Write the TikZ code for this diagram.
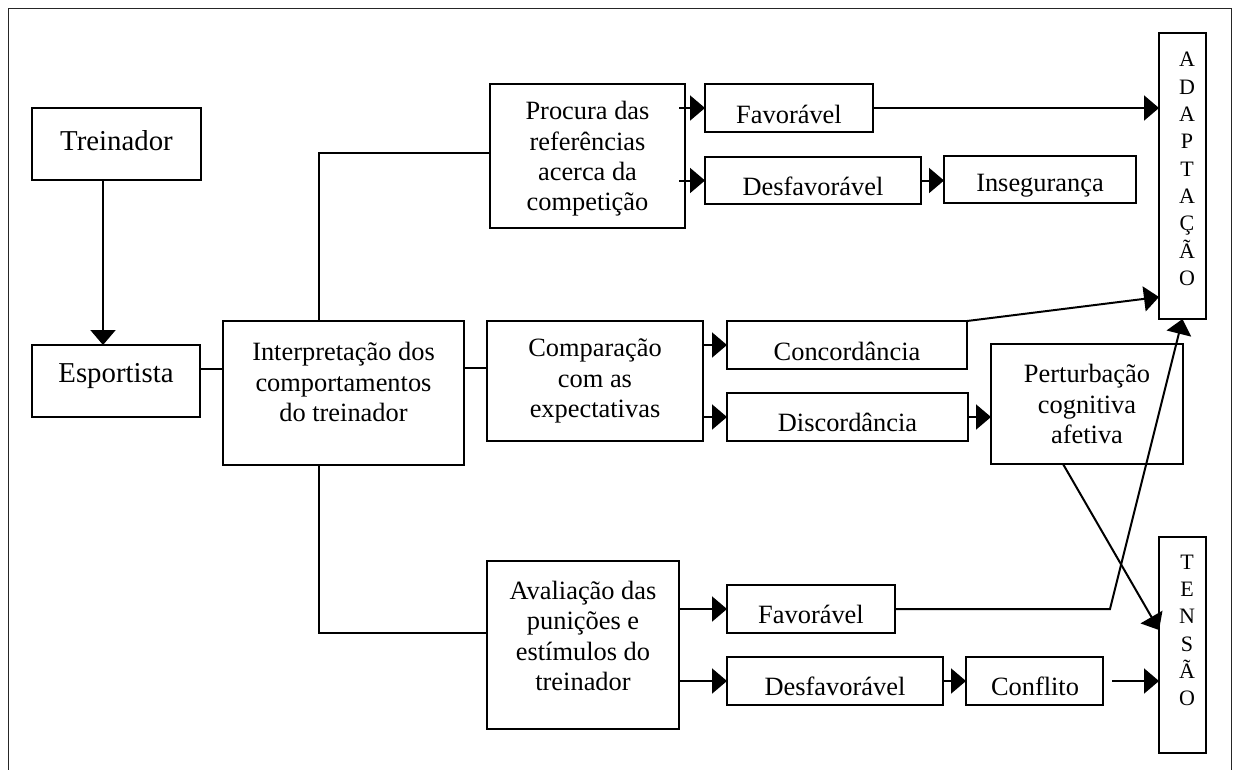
\documentclass[tikz,border=0pt]{standalone}
\usepackage{fontspec}
\setmainfont{Liberation Serif}
\usetikzlibrary{arrows.meta,calc}
\newcommand\mkbox[5]{\node[box, minimum width={#4-#2}, minimum height={#5-#3}] (#1) at ({(#2+#4)/2},{(#3+#5)/2}) {};}
\begin{document}
\begin{tikzpicture}[x=1pt,y=-1pt,
  box/.style={draw, line width=1.5pt, inner sep=0pt, outer sep=0pt},
  txt/.style={inner sep=0pt, align=center, font=\fontsize{26.4}{30.3}\selectfont},
  bigtxt/.style={inner sep=0pt, align=center, font=\fontsize{28.8}{30}\selectfont},
  vtxt/.style={inner sep=0pt, align=center, font=\fontsize{22}{27.3}\selectfont},
  conn/.style={line width=2pt},
  arr/.style={conn, -{Triangle[length=15pt,width=25pt]}},
  frame/.style={line width=1pt, draw=black!85}]
\useasboundingbox (0,0) rectangle (1238,769);
% outer frame (open at the bottom)
\draw[frame] (8,772) -- (8,8) -- (1231.5,8) -- (1231.5,772);

% boxes
\mkbox{trein}{32}{108}{201}{180}
\mkbox{esp}{32}{345}{200}{417}
\mkbox{interp}{223}{321}{464}{465}
\mkbox{procura}{490}{84}{685}{228}
\mkbox{fav1}{705}{84}{873}{132}
\mkbox{desf1}{705}{157}{921}{204}
\mkbox{inseg}{944}{156}{1136}{203}
\mkbox{comp}{487}{321}{703}{441}
\mkbox{conc}{727}{321}{967}{369}
\mkbox{disc}{727}{393}{968}{441}
\mkbox{pert}{991}{344}{1183}{464}
\mkbox{avalia}{487}{561}{679}{729}
\mkbox{fav2}{727}{585}{895}{633}
\mkbox{desf2}{727}{657}{943}{705}
\mkbox{confl}{966}{657}{1103}{705}
\mkbox{adapt}{1159}{33}{1206}{319}
\mkbox{tensao}{1159}{537}{1206}{753}

% texts
\node[bigtxt] (treinT) at (116.5,140.3) {Treinador};
\node[bigtxt] (espT) at (116,376.3) {Esportista};
\node[txt] (interpT) at (343.5,382) {Interpretação dos\\comportamentos\\do treinador};
\node[txt] (procuraT) at (587.5,159) {Procura das\\referências\\acerca da\\competição};
\node[txt] (fav1T) at (789,114) {Favorável};
\node[txt] (desf1T) at (813,186) {Desfavorável};
\node[txt] (insegT) at (1040,186) {Insegurança};
\node[txt] (compT) at (595,381) {Comparação\\com as\\expectativas};
\node[txt] (concT) at (847,351) {Concordância};
\node[txt] (discT) at (847.5,422) {Discordância};
\node[txt] (pertT) at (1087,404) {Perturbação\\cognitiva\\afetiva};
\node[txt] (avaliaT) at (583,636) {Avaliação das\\punições e\\estímulos do\\treinador};
\node[txt] (fav2T) at (811,614) {Favorável};
\node[txt] (desf2T) at (835,686) {Desfavorável};
\node[txt] (conflT) at (1035,686) {Conflito};
\node[vtxt] (adaptT) at (1187,169) {A\\D\\A\\P\\T\\A\\Ç\\Ã\\O};
\node[vtxt] (tensaoT) at (1187,630.5) {T\\E\\N\\S\\Ã\\O};

% connectors
\coordinate (bend) at (1110,609);
\draw[arr] (trein.south -| 103,0) -- (esp.north -| 103,0);
\draw[conn] (esp.east |- 0,369) -- (interp.west |- 0,369);
\draw[conn] (interp.north -| 319,0) |- (procura.west |- 0,153);
\draw[conn] (interp.south -| 319,0) |- (avalia.west |- 0,633);
\draw[conn] (interp.east |- 0,368) -- (comp.west |- 0,368);

\draw[arr] ($(procura.east |- fav1.west)+(-6,0)$) -- (fav1.west);
\draw[arr] ($(procura.east |- desf1.west)+(-6,0)$) -- (desf1.west);
\draw[arr] (fav1.east) -- (adapt.west |- fav1.east);
\draw[arr] (desf1.east) -- (inseg.west |- desf1.east);

\draw[arr] (comp.east |- conc.west) -- (conc.west);
\draw[arr] (comp.east |- disc.west) -- (disc.west);
\draw[arr] (conc.north east) -- (adapt.west |- 0,297);
\draw[arr] (disc.east) -- (pert.west |- disc.east);
\draw[arr] (pert.south -| 1063,0) -- (tensao.west |- 0,630);

\draw[arr] (avalia.east |- fav2.west) -- (fav2.west);
\draw[arr] (avalia.east |- desf2.west) -- (desf2.west);
\draw[arr] (fav2.east) -- (bend) -- (adapt.south);
\draw[arr] (desf2.east) -- (confl.west |- desf2.east);
\draw[arr] ($(confl.east)+(9,0)$) -- (tensao.west |- confl.east);
\end{tikzpicture}
\end{document}
